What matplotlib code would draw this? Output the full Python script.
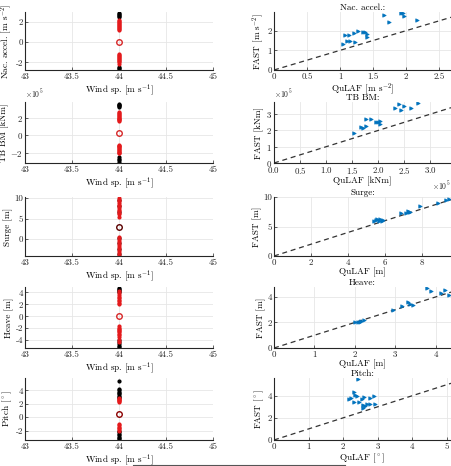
import numpy as np
import matplotlib
matplotlib.use('Agg')
import matplotlib.pyplot as plt
from matplotlib.lines import Line2D
from matplotlib.ticker import FormatStrFormatter, ScalarFormatter

plt.rcParams['font.family'] = 'serif'
plt.rcParams['font.serif'] = ['cmr10', 'DejaVu Serif']
plt.rcParams['mathtext.fontset'] = 'cm'
plt.rcParams['axes.formatter.use_mathtext'] = True
plt.rcParams['axes.unicode_minus'] = False
plt.rcParams['font.size'] = 6

#left column: all cases at one wind speed
wind = 44.0
nac_blk = [2.5, 2.6, 2.7, 2.8, 2.9, -2.5, -2.6, -2.7, -2.8]
nac_red = [1.2, 1.3, 1.4, 1.5, 1.6, 1.7, 1.8, 1.9, 2.0, 2.1, 2.2, -1.2, -1.3, -1.4, -1.5, -1.6, -1.7, -1.8, -1.9, -2.0, -2.2]
nac_mid = 0.0
tb_blk = [3.2e5, 3.3e5, 3.4e5, 3.5e5, 3.6e5, -2.5e5, -2.7e5, -2.9e5, -3.1e5]
tb_red = [1.6e5, 1.7e5, 1.8e5, 1.9e5, 2.0e5, 2.1e5, 2.2e5, 2.3e5, 2.4e5, 2.5e5, 2.6e5,
          -1.1e5, -1.2e5, -1.3e5, -1.4e5, -1.5e5, -1.6e5, -1.7e5, -1.8e5, -1.9e5, -2.0e5, -2.1e5]
tb_mid = 0.2e5
sg_blk = [9.5, 8.0, 6.5, 0.3, -1.0, -2.5, -3.8]
sg_red = [5.5, 6.0, 6.4, 6.8, 7.2, 7.6, 8.0, 8.4, 8.8, 9.2, 9.6, 10.0,
          0.5, 0.0, -0.5, -1.0, -1.5, -2.0, -2.5, -3.0, -3.5, -4.0]
sg_mid = 3.0
hv_blk = [4.0, 4.2, 4.4, 4.6, 4.8, -4.0, -4.3, -4.6, -4.9, -5.1]
hv_red = [2.0, 2.2, 2.6, 2.8, 3.0, 3.3, 3.6, 3.9, 4.2, -1.6, -1.9, -2.1, -2.3, -2.5, -2.7, -2.9, -3.1, -3.5, -3.9, -4.3]
hv_mid = 0.1
pt_blk = [5.4, 2.8, 3.0, 3.2, 3.4, 3.6, 3.8, 4.0, 4.2, -2.0, -2.2, -2.5, -2.7, -2.9, -3.1, -3.3]
pt_red = [2.3, 2.4, 2.5, 2.6, 2.7, 2.8, -1.0, -1.2, -1.4, -1.6, -1.8, -2.0]
pt_mid = 0.5

#right column: QuLAF vs FAST
nac_q = [1.04, 1.08, 1.13, 1.11, 1.15, 1.21, 1.27, 1.23, 1.35, 1.38, 1.41, 1.41, 1.67, 1.74, 1.92, 1.96, 1.97, 2.16]
nac_f = [1.30, 1.77, 1.77, 1.50, 1.50, 1.90, 2.00, 1.42, 1.92, 1.92, 1.83, 1.70, 2.80, 2.45, 2.92, 2.92, 2.73, 2.53]
tb_q = [1.54e5, 1.67e5, 1.70e5, 1.77e5, 1.77e5, 1.87e5, 1.95e5, 2.00e5, 2.03e5, 2.03e5, 2.33e5, 2.40e5, 2.44e5, 2.49e5, 2.63e5, 2.76e5]
tb_f = [1.85e5, 2.20e5, 2.17e5, 2.25e5, 2.72e5, 2.72e5, 2.55e5, 2.55e5, 2.42e5, 2.60e5, 3.40e5, 3.60e5, 3.28e5, 3.49e5, 3.40e5, 3.70e5]
sg_q = [5.37, 5.48, 5.55, 5.64, 5.73, 5.82, 5.90, 6.85, 7.14, 7.21, 7.28, 7.35, 7.86, 8.83, 9.30, 9.44]
sg_f = [5.90, 6.10, 6.30, 5.90, 6.20, 5.90, 6.10, 7.35, 7.35, 7.65, 7.50, 7.50, 8.40, 9.00, 9.50, 9.70]
hv_q = [2.00, 2.09, 2.16, 2.23, 2.12, 2.94, 3.17, 3.31, 3.37, 3.44, 3.79, 3.88, 4.13, 4.24, 4.32]
hv_f = [2.00, 2.00, 2.08, 2.22, 2.05, 2.97, 3.30, 3.57, 3.43, 3.35, 4.70, 4.43, 4.32, 4.51, 4.16]
pt_q = [2.44, 2.18, 2.22, 2.32, 2.35, 2.41, 2.30, 2.47, 2.54, 2.60, 2.57, 2.63, 2.70, 2.78, 2.90, 2.78, 2.92, 2.57]
pt_f = [5.50, 3.70, 3.80, 4.30, 4.06, 4.00, 3.44, 3.44, 3.70, 3.90, 3.20, 3.03, 3.28, 3.75, 4.00, 3.28, 3.28, 2.87]

left_ylab = ['Nac. accel. [m s$^{-2}$]', 'TB BM [kNm]', 'Surge [m]', 'Heave [m]', r'Pitch [$^\circ$]']
units = ['[m s$^{-2}$]', '[kNm]', '[m]', '[m]', r'[$^\circ$]']
titles = ['Nac. accel.:', 'TB BM:', 'Surge:', 'Heave:', 'Pitch:']
blk = [nac_blk, tb_blk, sg_blk, hv_blk, pt_blk]
red = [nac_red, tb_red, sg_red, hv_red, pt_red]
mid = [nac_mid, tb_mid, sg_mid, hv_mid, pt_mid]
mid_col = ['#d62728', '#d62728', '#5a0000', '#d62728', '#8b0000']
qd = [nac_q, tb_q, sg_q, hv_q, pt_q]
fd = [nac_f, tb_f, sg_f, hv_f, pt_f]

left_ylim = [(-2.75, 2.95), (-3.2e5, 3.8e5), (-4.2, 10.3), (-5.3, 4.9), (-3.4, 5.85)]
left_yt = [[-2, 0, 2], [-2e5, 0, 2e5], [0, 5, 10], [-4, -2, 0, 2, 4], [-2, 0, 2, 4]]
right_xlim = [2.68, 3.4e5, 9.55, 4.38, 5.12]
right_ylim = [2.95, 3.75e5, 10.0, 4.78, 5.6]
right_xt = [[0, 0.5, 1, 1.5, 2, 2.5], [0, 0.5e5, 1e5, 1.5e5, 2e5, 2.5e5, 3e5], [0, 2, 4, 6, 8], [0, 1, 2, 3, 4], [0, 1, 2, 3, 4, 5]]
right_yt = [[0, 1, 2], [0, 1e5, 2e5, 3e5], [0, 5, 10], [0, 2, 4], [0, 2, 4]]

rows = [(12, 70), (102, 163), (197, 256), (287, 348), (378, 440)]
H = 466.0
W = 451.0
fs_tick = 6.4
fs_lab = 6.6

fig = plt.figure(figsize=(4.51, 4.66), dpi=100)
blue = '#0072BD'

def style(ax):
    ax.grid(True, color='#e6e6e6', linewidth=0.6)
    ax.set_axisbelow(True)
    ax.spines['top'].set_visible(False)
    ax.spines['right'].set_visible(False)
    ax.spines['left'].set_color('#262626')
    ax.spines['bottom'].set_color('#262626')
    ax.tick_params(direction='in', length=2, width=0.5, colors='#262626', labelsize=fs_tick, pad=1.5)

def sci(axis):
    f = ScalarFormatter(useMathText=True)
    f.set_powerlimits((0, 0))
    axis.set_major_formatter(f)
    axis.get_offset_text().set_fontsize(fs_tick - 0.8)

for i in range(5):
    t, b = rows[i]
    #left panel
    axl = fig.add_axes([25/W, 1 - b/H, 188/W, (b - t)/H])
    style(axl)
    axl.plot([wind]*len(blk[i]), blk[i], '.', color='k', markersize=4)
    axl.plot([wind]*len(red[i]), red[i], '.', color='#e41a1c', markersize=4)
    axl.plot([wind], [mid[i]], 'o', mfc='none', mec=mid_col[i], markersize=4, mew=1.0)
    axl.set_xlim(43, 45)
    axl.set_xticks([43, 43.5, 44, 44.5, 45])
    axl.xaxis.set_major_formatter(FormatStrFormatter('%g'))
    axl.set_ylim(*left_ylim[i])
    axl.set_yticks(left_yt[i])
    axl.set_xlabel('Wind sp. [m s$^{-1}$]', fontsize=fs_lab, labelpad=1)
    axl.set_ylabel(left_ylab[i], fontsize=fs_lab, labelpad=1)

    #right panel
    axr = fig.add_axes([274/W, 1 - b/H, 177/W, (b - t)/H])
    style(axr)
    xr = right_xlim[i]
    axr.plot([0, xr], [0, xr], '--', color='#333333', linewidth=0.9, dashes=(4, 3))
    axr.plot(qd[i], fd[i], '>', color=blue, markersize=2.5, mew=0.5)
    axr.set_xlim(0, xr)
    axr.set_ylim(0, right_ylim[i])
    axr.set_xticks(right_xt[i])
    axr.set_yticks(right_yt[i])
    if i == 1:
        sci(axl.yaxis)
        sci(axr.xaxis)
        sci(axr.yaxis)
    else:
        axl.yaxis.set_major_formatter(FormatStrFormatter('%g'))
        axr.xaxis.set_major_formatter(FormatStrFormatter('%g'))
        axr.yaxis.set_major_formatter(FormatStrFormatter('%g'))
    axr.set_title(titles[i], fontsize=fs_lab, pad=0.5)
    axr.set_xlabel('QuLAF ' + units[i], fontsize=fs_lab, labelpad=0.5)
    axr.set_ylabel('FAST ' + units[i], fontsize=fs_lab, labelpad=1)

#edge of a box below the panels
fig.add_artist(Line2D([133/W, 345/W], [1 - 465/H, 1 - 465/H], color='#555555', linewidth=0.8))

plt.savefig('out.png', dpi=100)
